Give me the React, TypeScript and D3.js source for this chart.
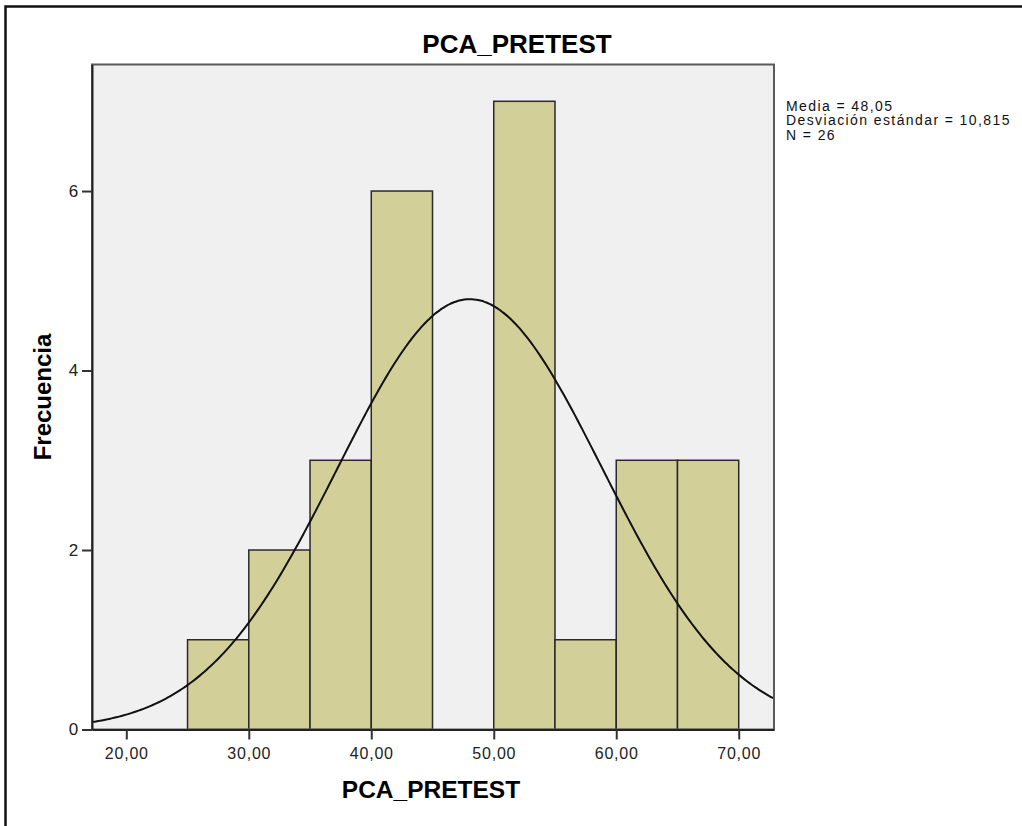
import React, { useRef, useEffect } from "react";
import * as d3 from "d3";

// histogram bins (lower edge) and counts
const binStarts = [25, 30, 35, 40, 45, 50, 55, 60, 65];
const frequencies = [1, 2, 3, 6, 0, 7, 1, 3, 3];
const binWidth = 5;
const xTicks = [20, 30, 40, 50, 60, 70];
const yTicks = [0, 2, 4, 6];
const statLines = ["Media = 48,05", "Desviación estándar = 10,815", "N = 26"];
const mean = 48.05;
const sd = 10.815;
const n = 26;

const FONT = "'Liberation Sans', Arial, sans-serif";

const App = () => {
  const ref = useRef<SVGSVGElement | null>(null);

  useEffect(() => {
    const svg = d3.select(ref.current);
    svg.selectAll("*").remove();

    const width = 1022;
    const height = 826;
    const plot = { left: 92, right: 774, top: 64.5, bottom: 729.5 };

    svg.append("rect").attr("width", width).attr("height", height).attr("fill", "#fff");

    // outer frame (only top and left visible)
    svg
      .append("path")
      .attr("d", `M5.5,${height} V6.5 H${width}`)
      .attr("fill", "none")
      .attr("stroke", "#111")
      .attr("stroke-width", 2.5);

    const x = d3.scaleLinear().domain([17.2, 72.88]).range([plot.left, plot.right]);
    const y = d3.scaleLinear().domain([0, 7.41]).range([plot.bottom, plot.top]);

    svg
      .append("rect")
      .attr("x", plot.left)
      .attr("y", plot.top)
      .attr("width", plot.right - plot.left)
      .attr("height", plot.bottom - plot.top)
      .attr("fill", "#f0f0f0");

    svg.append("defs")
      .append("clipPath")
      .attr("id", "plotClip")
      .append("rect")
      .attr("x", plot.left)
      .attr("y", plot.top)
      .attr("width", plot.right - plot.left)
      .attr("height", plot.bottom - plot.top);

    const bins = binStarts.map((s, i) => ({ x0: s, x1: s + binWidth, count: frequencies[i] }));

    svg
      .append("g")
      .selectAll("rect")
      .data(bins.filter((d) => d.count > 0))
      .join("rect")
      .attr("x", (d) => x(d.x0))
      .attr("y", (d) => y(d.count))
      .attr("width", (d) => x(d.x1) - x(d.x0))
      .attr("height", (d) => y(0) - y(d.count))
      .attr("fill", "#d3cf98")
      .attr("stroke", "#2a2a2a")
      .attr("stroke-width", 1.5);

    // normal curve
    const pts = d3.range(17.2, 72.9, 0.2).map((v) => [
      v,
      ((n * binWidth) / (sd * Math.sqrt(2 * Math.PI))) * Math.exp(-((v - mean) ** 2) / (2 * sd * sd)),
    ]);
    svg
      .append("path")
      .datum(pts)
      .attr("clip-path", "url(#plotClip)")
      .attr("fill", "none")
      .attr("stroke", "#111")
      .attr("stroke-width", 2)
      .attr(
        "d",
        d3
          .line<number[]>()
          .x((d) => x(d[0]))
          .y((d) => y(d[1]))
          .curve(d3.curveBasis)
      );

    // plot border
    svg
      .append("rect")
      .attr("x", plot.left)
      .attr("y", plot.top)
      .attr("width", plot.right - plot.left)
      .attr("height", plot.bottom - plot.top)
      .attr("fill", "none")
      .attr("stroke", "#5a5a5a")
      .attr("stroke-width", 2);

    const fmt = (v: number) => v.toFixed(2).replace(".", ",");

    const xAxis = svg
      .append("g")
      .attr("transform", `translate(0,${plot.bottom})`)
      .call(d3.axisBottom(x).tickValues(xTicks).tickSize(10).tickSizeOuter(0).tickFormat((d) => fmt(+d)));
    const yAxis = svg
      .append("g")
      .attr("transform", `translate(${plot.left},0)`)
      .call(d3.axisLeft(y).tickValues(yTicks).tickSize(10).tickSizeOuter(0).tickFormat((d) => String(d)));

    [xAxis, yAxis].forEach((g) => {
      g.select(".domain").attr("stroke", "#222").attr("stroke-width", 2);
      g.selectAll(".tick line").attr("stroke", "#333").attr("stroke-width", 2);
      g.selectAll(".tick text")
        .attr("font-family", FONT)
        .attr("font-size", 16)
        .attr("letter-spacing", 0.8)
        .attr("fill", "#222");
    });
    xAxis.selectAll(".tick text").attr("dy", "1.05em");
    yAxis.selectAll(".tick text").attr("font-size", 17).attr("letter-spacing", 0).attr("dx", "-0.05em");

    svg
      .append("text")
      .attr("x", 517)
      .attr("y", 53)
      .attr("text-anchor", "middle")
      .attr("font-family", FONT)
      .attr("font-weight", "bold")
      .attr("font-size", 26)
      .text("PCA_PRETEST");

    svg
      .append("text")
      .attr("x", 431)
      .attr("y", 798)
      .attr("text-anchor", "middle")
      .attr("font-family", FONT)
      .attr("font-weight", "bold")
      .attr("font-size", 24.5)
      .text("PCA_PRETEST");

    svg
      .append("text")
      .attr("transform", "translate(51,397) rotate(-90)")
      .attr("text-anchor", "middle")
      .attr("font-family", FONT)
      .attr("font-weight", "bold")
      .attr("font-size", 24)
      .text("Frecuencia");

    svg
      .append("g")
      .selectAll("text")
      .data(statLines)
      .join("text")
      .attr("x", 786)
      .attr("y", (_, i) => 110.5 + i * 14.8)
      .attr("font-family", FONT)
      .attr("font-size", 14)
      .attr("letter-spacing", 1.4)
      .attr("fill", "#111")
      .text((d) => d);
  }, []);

  return (
    <svg
      ref={ref}
      width={1022}
      height={826}
      style={{ position: "absolute", left: 0, top: 0 }}
    />
  );
};

export default App;
